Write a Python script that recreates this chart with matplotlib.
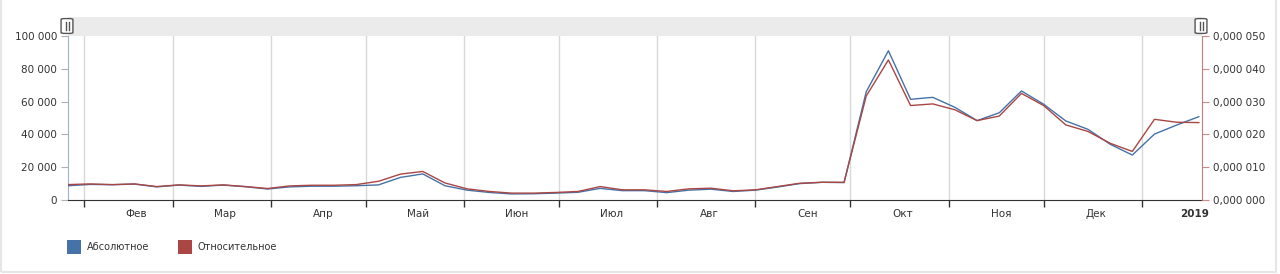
import numpy as np
import pandas as pd
import matplotlib
matplotlib.use("Agg")
import matplotlib.pyplot as plt
from matplotlib.patches import Rectangle, FancyBboxPatch

# weekly points, starting late January 2018
dates = pd.date_range("2018-01-27", periods=52, freq="7D")

absolute = [8700, 9500, 9300, 9700, 8000, 9100, 8300, 9100, 8100, 6700,
            8000, 8400, 8400, 8700, 9200, 13800, 15900, 8700, 6000, 4600,
            3700, 3800, 4200, 4700, 7100, 5700, 5700, 4500, 6000, 6600,
            5200, 6000, 7900, 10000, 10800, 10600, 66000, 91000, 61400, 62600,
            56500, 48400, 53200, 66500, 58400, 48200, 43100, 34000, 27400, 40200,
            45700, 50800]

relative = [0.0000047, 0.0000049, 0.0000047, 0.0000049, 0.0000041, 0.0000046,
            0.0000043, 0.0000046, 0.0000041, 0.0000035, 0.0000043, 0.0000045,
            0.0000045, 0.0000047, 0.0000057, 0.0000079, 0.0000087, 0.0000052,
            0.0000034, 0.0000026, 0.0000021, 0.0000021, 0.0000023, 0.0000026,
            0.0000041, 0.0000031, 0.0000031, 0.0000026, 0.0000034, 0.0000036,
            0.0000028, 0.0000031, 0.0000041, 0.0000051, 0.0000054, 0.0000054,
            0.0000317, 0.0000427, 0.0000288, 0.0000293, 0.0000275, 0.0000242,
            0.0000256, 0.0000325, 0.0000288, 0.0000229, 0.0000209, 0.0000173,
            0.0000148, 0.0000246, 0.0000237, 0.0000236]

months = pd.date_range("2018-02-01", "2019-01-01", freq="MS")
month_labels = ["Фев", "Мар", "Апр", "Май", "Июн", "Июл", "Авг",
                "Сен", "Окт", "Ноя", "Дек", "2019"]

blue = "#4572A7"
red = "#AA4643"
txt = "#333333"

plt.rcParams["font.family"] = ["DejaVu Sans"]

fig = plt.figure(figsize=(12.8, 2.74), dpi=100)
ax = fig.add_axes([68/1280, 1 - 200/274, (1202-68)/1280, 164/274])
ax2 = ax.twinx()

ax.set_xlim(pd.Timestamp("2018-01-27"), pd.Timestamp("2019-01-20"))
ax.set_ylim(0, 100000)
ax2.set_ylim(0, 0.00005)

ax.plot(dates, absolute, color=blue, lw=1, zorder=3)
ax2.plot(dates, relative, color=red, lw=1, zorder=3)

# month grid and ticks
ax.set_xticks(months)
ax.set_xticklabels([])
ax.tick_params(axis="x", length=5, width=1, color="#333333", direction="out")
for m in months:
    ax.axvline(m, color="#d8d8d8", lw=1, zorder=0)
for m, lab in zip(months, month_labels):
    ax.text(m + pd.Timedelta(days=16.5), -0.085, lab, transform=ax.get_xaxis_transform(),
            ha="center", va="center", fontsize=7.5, color=txt,
            fontweight="bold" if lab == "2019" else "normal")

yt = np.arange(0, 100001, 20000)
ax.set_yticks(yt)
ax.set_yticklabels([f"{v:,.0f}".replace(",", " ") for v in yt], fontsize=7.5, color=txt)
ax.tick_params(axis="y", length=5, color="#b0b0b0", pad=3)

rt = np.arange(0, 0.0000501, 0.00001)
rlabels = []
for v in rt:
    s = f"{v:.6f}".replace(".", ",")
    rlabels.append(s[:5] + " " + s[5:])
ax2.set_yticks(rt)
ax2.set_yticklabels(rlabels, fontsize=7.5, color=txt)
ax2.tick_params(axis="y", length=5, color="#c98c8a", pad=3)

for a in (ax, ax2):
    a.spines["top"].set_visible(False)
ax.spines["bottom"].set_color("#333333")
ax.spines["left"].set_color("#9fb3d1")
ax.spines["right"].set_visible(False)
ax2.spines["left"].set_visible(False)
ax2.spines["bottom"].set_visible(False)
ax2.spines["right"].set_color("#c27f7c")

# navigator band above the plot
band = Rectangle((0, 1.0), 1, 19/164, transform=ax.transAxes, facecolor="#ebebeb",
                 edgecolor="none", clip_on=False, zorder=0)
ax.add_patch(band)
for xh in (67, 1201):
    fx = xh / 1280
    fy = 1 - 26/274
    h = FancyBboxPatch((fx - 4/1280, fy - 7/274), 8/1280, 14/274,
                       boxstyle="round,pad=0.0015,rounding_size=0.003",
                       transform=fig.transFigure, facecolor="white",
                       edgecolor="#555555", lw=1, zorder=10)
    fig.patches.append(h)
    for dx in (-1.5, 1.5):
        fig.lines.append(plt.Line2D([(xh + dx)/1280] * 2, [fy - 4/274, fy + 4/274],
                                    transform=fig.transFigure, color="#555555",
                                    lw=1, zorder=11))

# legend
for x0, col, lab in [(67, blue, "Абсолютное"), (178, red, "Относительное")]:
    fig.patches.append(Rectangle((x0/1280, 1 - 254/274), 14/1280, 14/274,
                                 transform=fig.transFigure, facecolor=col, edgecolor="none"))
    fig.text((x0 + 20)/1280, 1 - 247/274, lab, ha="left", va="center",
             fontsize=7, color=txt)

# outer light border
fig.patches.append(Rectangle((1/1280, 2/274), 1275/1280, 1.2, transform=fig.transFigure,
                             facecolor="none", edgecolor="#e6e6e6", lw=1.5))

fig.savefig("out.png", dpi=100, facecolor="white")
